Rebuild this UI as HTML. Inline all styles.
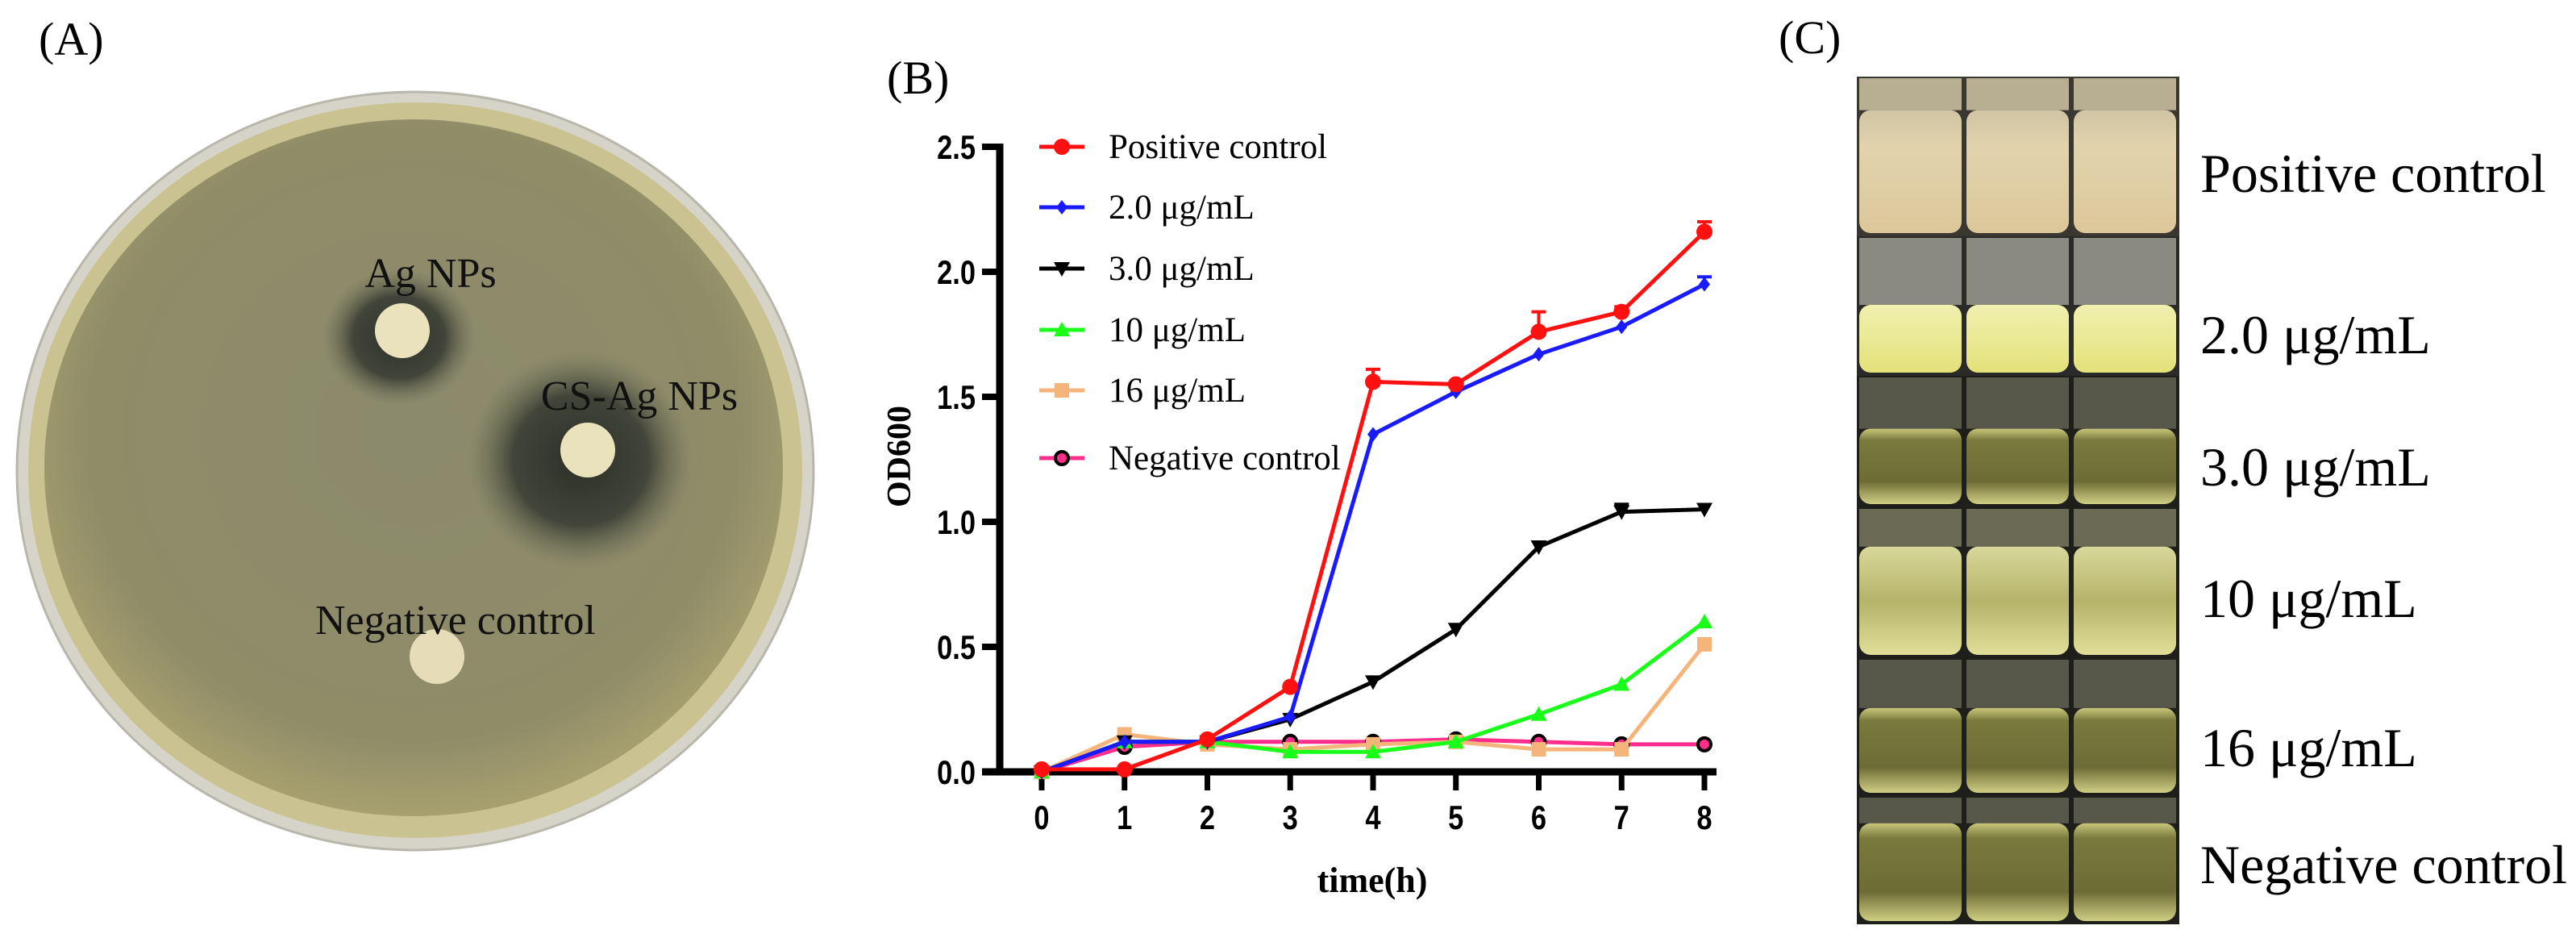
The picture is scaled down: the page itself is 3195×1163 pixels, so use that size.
<!DOCTYPE html>
<html><head><meta charset="utf-8">
<style>
html,body{margin:0;padding:0;background:#fff;}
svg{display:block;}
.t{font-family:"Liberation Serif",serif;}
.b{font-family:"Liberation Sans",sans-serif;font-weight:bold;}
</style></head>
<body>
<svg id="fig" width="3195" height="1163" viewBox="0 0 3195 1163" xmlns="http://www.w3.org/2000/svg">
<defs>
  <radialGradient id="agar" cx="50%" cy="45%" r="55%">
    <stop offset="0" stop-color="#8b8a6c"/>
    <stop offset="0.8" stop-color="#8f8c68"/>
    <stop offset="1" stop-color="#a8a06e"/>
  </radialGradient>
  <radialGradient id="zone" cx="50%" cy="50%" r="50%">
    <stop offset="0" stop-color="#2c2f28"/>
    <stop offset="0.6" stop-color="#3e4136" stop-opacity="0.95"/>
    <stop offset="1" stop-color="#6e6f5a" stop-opacity="0"/>
  </radialGradient>
  <linearGradient id="cream" x1="0" y1="0" x2="0" y2="1">
    <stop offset="0" stop-color="#cfc4a4"/><stop offset="0.3" stop-color="#e2d3ac"/><stop offset="1" stop-color="#dcc79a"/>
  </linearGradient>
  <linearGradient id="yel" x1="0" y1="0" x2="0" y2="1">
    <stop offset="0" stop-color="#f0f0b0"/><stop offset="1" stop-color="#e4e27a"/>
  </linearGradient>
  <linearGradient id="dk" x1="0" y1="0" x2="0" y2="1">
    <stop offset="0" stop-color="#c9c77a"/><stop offset="0.15" stop-color="#7a7a3e"/><stop offset="0.7" stop-color="#6d6c36"/><stop offset="1" stop-color="#d0cf84"/>
  </linearGradient>
  <linearGradient id="lt" x1="0" y1="0" x2="0" y2="1">
    <stop offset="0" stop-color="#d8d89a"/><stop offset="0.5" stop-color="#b5b36a"/><stop offset="1" stop-color="#e0de98"/>
  </linearGradient>
</defs>

<!-- Panel A -->
<text class="t" x="48" y="68" font-size="58">(A)</text>
<g>
  <ellipse cx="515" cy="584" rx="494" ry="470" fill="#d6d4c8" stroke="#b9b7ab" stroke-width="3"/>
  <ellipse cx="515" cy="583" rx="480" ry="456" fill="#cbc292"/>
  <ellipse cx="513" cy="580" rx="458" ry="432" fill="url(#agar)"/>
  <ellipse cx="495" cy="418" rx="95" ry="85" fill="url(#zone)"/>
  <ellipse cx="720" cy="570" rx="140" ry="135" fill="url(#zone)"/>
  <circle cx="499" cy="410" r="34" fill="#e9e2bd"/>
  <circle cx="729" cy="558" r="34" fill="#e9e2bd"/>
  <circle cx="542" cy="814" r="34" fill="#e6ddb8"/>
  <text class="t" x="534" y="356" font-size="52" text-anchor="middle" fill="#111">Ag NPs</text>
  <text class="t" x="793" y="508" font-size="52" text-anchor="middle" fill="#111">CS-Ag NPs</text>
  <text class="t" x="565" y="786" font-size="52" text-anchor="middle" fill="#111">Negative control</text>
</g>

<!-- Panel B -->
<text class="t" x="1100" y="116" font-size="58">(B)</text>
<g id="chart"></g>

<!-- Panel C -->
<text class="t" x="2206" y="66" font-size="58">(C)</text>
<g id="photos"></g>
</svg>

<script>
const NS="http://www.w3.org/2000/svg";
const times=[0,1,2,3,4,5,6,7,8];
const xTicks=["0","1","2","3","4","5","6","7","8"];
const yTicks=[0,0.5,1.0,1.5,2.0,2.5];
const seriesNames=["Positive control","2.0 \u03bcg/mL","3.0 \u03bcg/mL","10 \u03bcg/mL","16 \u03bcg/mL","Negative control"];
const positive=[0.01,0.01,0.13,0.34,1.56,1.55,1.76,1.84,2.16];
const positiveErr=[0,0,0,0,0.05,0,0.08,0.02,0.04];
const conc2=[0.00,0.12,0.12,0.22,1.35,1.52,1.67,1.78,1.95];
const conc2Err=[0,0,0,0,0,0,0,0,0.03];
const conc3=[0.00,0.12,0.12,0.21,0.36,0.57,0.90,1.04,1.05];
const conc3Err=[0,0,0,0,0,0,0,0.03,0];
const conc10=[0.00,0.12,0.12,0.08,0.08,0.12,0.23,0.35,0.60];
const conc16=[0.00,0.15,0.11,0.09,0.11,0.12,0.09,0.09,0.51];
const negative=[0.00,0.10,0.12,0.12,0.12,0.13,0.12,0.11,0.11];

const X0=1292, XS=102.75, Y0=957, YS=310;
function xs(v){return X0+v*XS;}
function ys(v){return Y0-v*YS;}
const chart=document.getElementById('chart');
function mk(tag,attrs,parent){const e=document.createElementNS(NS,tag);for(const k in attrs)e.setAttribute(k,attrs[k]);(parent||chart).appendChild(e);return e;}

let ya=mk('line',{x1:1240,y1:ys(2.5)-4,x2:1240,y2:Y0+4,stroke:'#000','stroke-width':9});


let xa=mk('line',{x1:1218,y1:Y0,x2:xs(8)+15,y2:Y0,stroke:'#000','stroke-width':9});


yTicks.forEach(v=>{
  let l=mk('line',{x1:1218,y1:ys(v),x2:1240,y2:ys(v),stroke:'#000','stroke-width':8});
  
  
  let t=mk('text',{x:1210,y:ys(v)+15,'text-anchor':'end','font-size':42,class:'b',transform:`translate(${1210*0.18},0) scale(0.82,1)`});
  t.textContent=v.toFixed(1);
  
  
});
times.forEach((v,i)=>{
  let l=mk('line',{x1:xs(v),y1:Y0,x2:xs(v),y2:980,stroke:'#000','stroke-width':7});
  
  
  let t=mk('text',{x:xs(v)/0.82,y:1028,'text-anchor':'middle','font-size':42,class:'b',transform:'scale(0.82,1)'});
  t.textContent=xTicks[i];
  
  
});
let xt=mk('text',{x:1702,y:1106,'text-anchor':'middle','font-size':44,'font-weight':'bold',class:'t'});
xt.textContent='time(h)';


let yt=mk('text',{x:0,y:0,'text-anchor':'middle','font-size':42,'font-weight':'bold',class:'t',transform:'translate(1129,566) rotate(-90)'});
yt.textContent='OD600';



function marker(type,cx,cy,color,g){
  let e;
  if(type==='circle') e=mk('circle',{cx,cy,r:10,fill:color},g);
  else if(type==='diamond') e=mk('path',{d:`M${cx} ${cy-9}L${cx+7} ${cy}L${cx} ${cy+9}L${cx-7} ${cy}Z`,fill:color},g);
  else if(type==='down') e=mk('path',{d:`M${cx-10} ${cy-8}L${cx+10} ${cy-8}L${cx} ${cy+10}Z`,fill:color},g);
  else if(type==='up') e=mk('path',{d:`M${cx-10} ${cy+8}L${cx+10} ${cy+8}L${cx} ${cy-10}Z`,fill:color},g);
  else if(type==='square') e=mk('rect',{x:cx-9,y:cy-9,width:18,height:18,fill:color},g);
  else if(type==='ring') e=mk('circle',{cx,cy,r:8,fill:'#ff2d8c',stroke:'#000','stroke-width':4},g);
  return e;
}
const series=[
 {vals:negative,err:null,color:'#ff2d8c',m:'ring',name:'negative-control'},
 {vals:conc16,err:null,color:'#f5b57a',m:'square',name:'16-ug-ml'},
 {vals:conc10,err:null,color:'#19ff19',m:'up',name:'10-ug-ml'},
 {vals:conc3,err:conc3Err,color:'#000000',m:'down',name:'3-ug-ml'},
 {vals:conc2,err:conc2Err,color:'#1a1aff',m:'diamond',name:'2-ug-ml'},
 {vals:positive,err:positiveErr,color:'#ff1010',m:'circle',name:'positive-control'}
];
series.forEach(s=>{
  const g=mk('g',{});
  
  
  const pts=times.map((t,i)=>xs(t)+','+ys(s.vals[i])).join(' ');
  const pl=mk('polyline',{points:pts,fill:'none',stroke:s.color,'stroke-width':5},g);
  
  
  if(s.err){times.forEach((t,i)=>{if(s.err[i]>0){
    const eb=mk('path',{d:`M${xs(t)} ${ys(s.vals[i])}V${ys(s.vals[i]+s.err[i])}M${xs(t)-9} ${ys(s.vals[i]+s.err[i])}H${xs(t)+9}`,stroke:s.color,'stroke-width':4,fill:'none'},g);
    
    
  }});}
  times.forEach((t,i)=>{
    const m=marker(s.m,xs(t),ys(s.vals[i]),s.color,g);
    
    
  });
});
const legendY=[182,257,333,409,484,568];
const legSeries=[series[5],series[4],series[3],series[2],series[1],series[0]];
legSeries.forEach((s,i)=>{
  const g=mk('g',{});
  
  
  mk('line',{x1:1289,y1:legendY[i],x2:1345,y2:legendY[i],stroke:s.color,'stroke-width':5},g);
  marker(s.m,1317,legendY[i],s.color,g);
  const t=mk('text',{x:1375,y:legendY[i]+14,'font-size':43,class:'t'},g);
  t.textContent=seriesNames[i];
});

// Panel C photos
const ph=document.getElementById('photos');
const rowsY=[95,293,466,629,816,987,1146];
const rowLabels=["Positive control","2.0 \u03bcg/mL","3.0 \u03bcg/mL","10 \u03bcg/mL","16 \u03bcg/mL","Negative control"];
const labelY=[215,415,579,742,927,1072];
const fills=['url(#cream)','url(#yel)','url(#dk)','url(#lt)','url(#dk)','url(#dk)'];
const liq=[0.2,0.48,0.39,0.25,0.35,0.2];
rowLabels.forEach((lab,r)=>{
  const y0=rowsY[r],h=rowsY[r+1]-y0;
  const g=document.createElementNS(NS,'g');ph.appendChild(g);
  
  
  const bg=document.createElementNS(NS,'rect');
  bg.setAttribute('x',2303);bg.setAttribute('y',y0);bg.setAttribute('width',400);bg.setAttribute('height',h);
  bg.setAttribute('fill',r===0?'#3a3630':(r===1?'#2a2a28':'#1e1e1a'));g.appendChild(bg);
  for(let k=0;k<3;k++){
    const vx=2306+k*133, vw=127;
    const top=document.createElementNS(NS,'rect');
    top.setAttribute('x',vx);top.setAttribute('y',y0+2);top.setAttribute('width',vw);top.setAttribute('height',h*liq[r]);
    top.setAttribute('fill',r===0?'#b8ae92':(r===1?'#8a8a80':(r===3?'#6a6a55':'#57574a')));g.appendChild(top);
    const lq=document.createElementNS(NS,'rect');
    lq.setAttribute('x',vx);lq.setAttribute('y',y0+2+h*liq[r]);lq.setAttribute('width',vw);lq.setAttribute('height',h*(1-liq[r])-6);
    lq.setAttribute('rx',14);lq.setAttribute('fill',fills[r]);g.appendChild(lq);
  }
  const t=document.createElementNS(NS,'text');
  t.setAttribute('x',2729);t.setAttribute('y',labelY[r]+23);t.setAttribute('font-size',68);t.setAttribute('class','t');
  t.textContent=lab;
  
  
  ph.appendChild(t);
});
</script>
</body></html>
